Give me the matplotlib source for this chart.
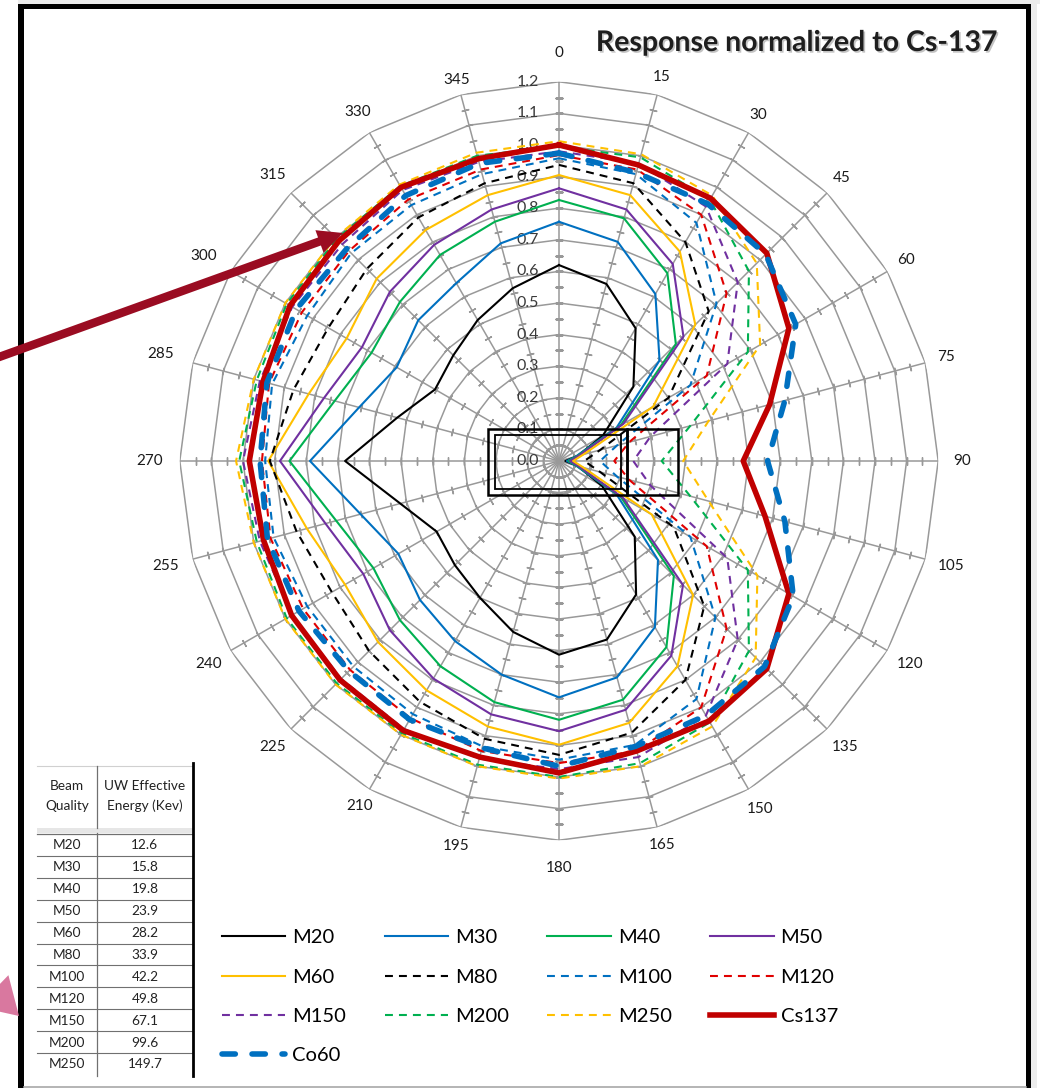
import numpy as np
import matplotlib
matplotlib.use("Agg")
import matplotlib.pyplot as plt
from matplotlib.patches import Rectangle, FancyArrow
import matplotlib.patheffects as pe

plt.rcParams['font.family'] = ['Lato', 'DejaVu Sans']

# ---------------- data ----------------
angles_deg = list(range(0, 360, 15))

M20 = [0.62, 0.58, 0.485, 0.333, 0.16, 0.06, 0.02, 0.06, 0.157, 0.339, 0.488, 0.585,
       0.613, 0.56, 0.50, 0.466, 0.447, 0.52, 0.677, 0.53, 0.453, 0.473, 0.515, 0.566]
M30 = [0.757, 0.718, 0.61, 0.45, 0.21, 0.055, 0.025, 0.055, 0.21, 0.443, 0.607, 0.709,
       0.748, 0.70, 0.658, 0.622, 0.587, 0.65, 0.788, 0.655, 0.593, 0.63, 0.65, 0.713]
M40 = [0.826, 0.795, 0.686, 0.523, 0.225, 0.06, 0.03, 0.06, 0.225, 0.514, 0.68, 0.782,
       0.819, 0.79, 0.75, 0.712, 0.678, 0.73, 0.853, 0.735, 0.685, 0.712, 0.753, 0.784]
M50 = [0.863, 0.824, 0.72, 0.557, 0.235, 0.065, 0.035, 0.065, 0.235, 0.555, 0.711, 0.815,
       0.855, 0.83, 0.795, 0.757, 0.715, 0.765, 0.883, 0.77, 0.72, 0.757, 0.79, 0.824]
M60 = [0.905, 0.871, 0.765, 0.61, 0.344, 0.08, 0.045, 0.08, 0.339, 0.60, 0.75, 0.858,
       0.898, 0.87, 0.838, 0.81, 0.782, 0.826, 0.92, 0.82, 0.776, 0.816, 0.844, 0.871]
M80 = [0.937, 0.91, 0.80, 0.67, 0.40, 0.135, 0.08, 0.135, 0.42, 0.65, 0.80, 0.89,
       0.93, 0.91, 0.88, 0.85, 0.83, 0.86, 0.915, 0.87, 0.843, 0.86, 0.89, 0.91]
M100 = [0.958, 0.94, 0.87, 0.705, 0.48, 0.19, 0.13, 0.19, 0.48, 0.70, 0.87, 0.93,
        0.945, 0.935, 0.925, 0.92, 0.92, 0.935, 0.93, 0.94, 0.92, 0.93, 0.935, 0.94]
M120 = [0.968, 0.955, 0.90, 0.75, 0.54, 0.23, 0.175, 0.23, 0.54, 0.75, 0.90, 0.95,
        0.956, 0.95, 0.94, 0.935, 0.935, 0.945, 0.94, 0.95, 0.94, 0.94, 0.955, 0.955]
M150 = [0.98, 0.975, 0.93, 0.80, 0.615, 0.30, 0.235, 0.30, 0.615, 0.80, 0.93, 0.97,
        0.975, 0.975, 0.98, 0.975, 0.975, 0.98, 1.0, 0.98, 0.975, 0.97, 0.99, 0.98]
M200 = [0.995, 0.995, 0.955, 0.85, 0.69, 0.43, 0.325, 0.43, 0.69, 0.85, 0.955, 0.99,
        1.0, 0.995, 0.995, 0.995, 0.995, 0.99, 1.012, 0.99, 0.995, 0.995, 1.005, 1.0]
M250 = [1.012, 1.005, 0.97, 0.885, 0.735, 0.49, 0.393, 0.49, 0.725, 0.88, 0.97, 1.0,
        1.005, 1.0, 1.0, 1.0, 1.0, 1.0, 1.022, 1.0, 1.0, 1.0, 1.01, 1.01]
Cs137 = [1.0, 0.97, 0.96, 0.93, 0.84, 0.69, 0.583, 0.675, 0.84, 0.93, 0.95, 0.95,
         0.987, 0.97, 0.985, 0.98, 0.977, 0.968, 0.98, 0.97, 0.983, 0.985, 1.0, 0.99]
Co60 = [0.974, 0.945, 0.94, 0.925, 0.865, 0.74, 0.66, 0.74, 0.856, 0.92, 0.93, 0.935,
        0.966, 0.94, 0.945, 0.94, 0.95, 0.955, 0.946, 0.957, 0.96, 0.95, 0.97, 0.975]

series_names = ['M20', 'M30', 'M40', 'M50', 'M60', 'M80', 'M100', 'M120',
                'M150', 'M200', 'M250', 'Cs137', 'Co60']
series_values = [M20, M30, M40, M50, M60, M80, M100, M120, M150, M200, M250, Cs137, Co60]

radial_ticks = [0.0, 0.1, 0.2, 0.3, 0.4, 0.5, 0.6, 0.7, 0.8, 0.9, 1.0, 1.1, 1.2]

table_beam = ['M20', 'M30', 'M40', 'M50', 'M60', 'M80', 'M100', 'M120', 'M150', 'M200', 'M250']
table_energy = ['12.6', '15.8', '19.8', '23.9', '28.2', '33.9', '42.2', '49.8', '67.1', '99.6', '149.7']

title = 'Response normalized to Cs-137'

# ---------------- styles / layout ----------------
BLUE = '#0070C0'
GREEN = '#00B050'
PURPLE = '#7030A0'
YELLOW = '#FFC000'
RED = '#E00000'
DRED = '#C00000'
GRID = '#999999'

# distance (px) of each angle label from the centre
label_rpx = [408, 398, 399, 400, 401, 401, 403, 406, 405, 405, 402, 398,
             407, 399, 398, 405, 405, 407, 409, 412, 410, 405, 403, 394]

thin = 1.5
dash = (3.8, 2.9)
styles = {
    'M20': dict(color='black', lw=thin, ls='-'),
    'M30': dict(color=BLUE, lw=thin, ls='-'),
    'M40': dict(color=GREEN, lw=thin, ls='-'),
    'M50': dict(color=PURPLE, lw=thin, ls='-'),
    'M60': dict(color=YELLOW, lw=thin, ls='-'),
    'M80': dict(color='black', lw=thin, ls=(0, dash)),
    'M100': dict(color=BLUE, lw=thin, ls=(0, dash)),
    'M120': dict(color=RED, lw=thin, ls=(0, dash)),
    'M150': dict(color=PURPLE, lw=thin, ls=(0, dash)),
    'M200': dict(color=GREEN, lw=thin, ls=(0, dash)),
    'M250': dict(color=YELLOW, lw=thin, ls=(0, dash)),
    'Cs137': dict(color=DRED, lw=4.0, ls='-'),
    'Co60': dict(color=BLUE, lw=4.0, ls=(0, (2.4, 3.0)), dash_capstyle='round'),
}

W, H = 1040, 1088
fig = plt.figure(figsize=(W / 100, H / 100), dpi=100)
fig.patch.set_facecolor('white')

# polar axes: centre at (559, 461) px, r=1.2 -> 379 px
cx, cy, R = 559, 461, 379.2
PXU = R / 1.2
ax = fig.add_axes([(cx - R) / W, (H - cy - R) / H, 2 * R / W, 2 * R / H], projection='polar')
ax.set_theta_zero_location('N')
ax.set_theta_direction(-1)
ax.set_ylim(0, 1.2)
ax.set_axis_off()

theta = np.deg2rad(angles_deg)
theta_closed = np.append(theta, theta[0] + 2 * np.pi)

# polygon rings
for r in radial_ticks[1:]:
    ax.plot(theta_closed, [r] * len(theta_closed), color=GRID, lw=1.1, zorder=1)
# spokes + tick marks
tick_r = np.arange(0.05, 1.2, 0.05)
for a, t in zip(angles_deg, theta):
    ax.plot([t, t], [0, 1.2], color=GRID, lw=1.1, zorder=1)
    ax.plot([t] * len(tick_r), tick_r, ls='none', marker=(2, 2, 90 - a),
            ms=5.5, mew=1.0, mec=GRID, zorder=1)

# angle labels
for a, t, rp in zip(angles_deg, theta, label_rpx):
    ax.text(t, rp / PXU, str(a), ha='center', va='center', fontsize=11, color='#1a1a1a')
# radial labels
for v in radial_ticks:
    ax.annotate(f'{v:.1f}', xy=(0, v), xytext=(-14.5, 0), textcoords='offset points',
                ha='right', va='center', fontsize=11.5, color='#3a3a3a', zorder=2)

# series
handles = {}
for name, vals in zip(series_names, series_values):
    vv = np.append(vals, vals[0])
    ln, = ax.plot(theta_closed, vv, zorder=3, **styles[name])
    handles[name] = ln

# legend (row-wise order laid out column-major)
order = ['M20', 'M60', 'M150', 'Co60', 'M30', 'M80', 'M200', 'M40', 'M100', 'M250',
         'M50', 'M120', 'Cs137']
fig.legend([handles[n] for n in order], order, loc='upper left',
           bbox_to_anchor=(222 / W, 1 - 929 / H), ncol=4, frameon=False,
           fontsize=14.5, handlelength=3.15, handletextpad=0.35, columnspacing=1.9,
           labelspacing=1.11, borderpad=0, borderaxespad=0)

# ---------------- overlay (pixel coordinates) ----------------
ov = fig.add_axes([0, 0, 1, 1], zorder=5)
ov.set_xlim(0, W)
ov.set_ylim(H, 0)
ov.axis('off')
ov.patch.set_alpha(0)

# frame
ov.add_patch(Rectangle((18, 0), W - 18, 4, color='#ececec', lw=0))
ov.add_patch(Rectangle((1031, 0), 6, H, color='#ececec', lw=0))
ov.add_patch(Rectangle((18, 4), 6, H, color='black', lw=0))
ov.add_patch(Rectangle((18, 4), 1013, 5, color='black', lw=0))
ov.add_patch(Rectangle((1026, 4), 5, H, color='black', lw=0))
ov.plot([24, 1026], [1086.5, 1086.5], color='#a8a8a8', lw=1.2)

# title
ov.text(797, 51, title, ha='center', va='baseline', fontsize=20.5, fontweight='bold',
        color='#1e1e1e',
        path_effects=[pe.SimplePatchShadow(offset=(1.2, -1.2), shadow_rgbFace='#888888', alpha=0.5),
                      pe.Normal()])

# centre rectangles
for (x0, y0, x1, y1, lw) in [(488, 429, 627, 495, 1.8), (495, 435, 621, 489, 1.3),
                             (627, 429, 678, 495, 1.8)]:
    ov.add_patch(Rectangle((x0, y0), x1 - x0, y1 - y0, fill=False, ec='black', lw=lw))

# dark red arrow
ov.add_patch(FancyArrow(-5, 358.5, 348, -125.5, width=8.5, head_width=24, head_length=25,
                        length_includes_head=True, color='#9a0c22', lw=0))
# pink arrow (partially visible)
ov.add_patch(FancyArrow(-70, 930, 89, 86, width=14, head_width=44, head_length=36,
                        length_includes_head=True, color='#d9789f', lw=0))

# table
tx0, tx1, tx2 = 37, 97, 193
ov.plot([tx0, tx2], [766, 766], color='#d0d0d0', lw=0.8)
ov.text(67, 786, 'Beam', ha='center', va='center', fontsize=9.8, color='#222222')
ov.text(67, 806, 'Quality', ha='center', va='center', fontsize=9.8, color='#222222')
ov.text(145, 786, 'UW Effective', ha='center', va='center', fontsize=9.8, color='#222222')
ov.text(145, 806, 'Energy (Kev)', ha='center', va='center', fontsize=9.8, color='#222222')
ov.add_patch(Rectangle((tx0, 827.5), tx2 - tx0, 5.5, color='#e6e6e6', lw=0))
row0, pitch = 834, 21.9
ov.plot([tx0, tx2], [row0, row0], color='#707070', lw=0.9)
for i, (b, e) in enumerate(zip(table_beam, table_energy)):
    yc = row0 + pitch * (i + 0.5)
    ov.text(67, yc + 0.5, b, ha='center', va='center', fontsize=9.8, color='#222222')
    ov.text(145, yc + 0.5, e, ha='center', va='center', fontsize=9.8, color='#222222')
    if i < len(table_beam) - 1:
        ov.plot([tx0, tx2], [row0 + pitch * (i + 1)] * 2, color='#707070', lw=0.8)
ov.plot([tx1, tx1], [766, 827.5], color='#707070', lw=0.9)
ov.plot([tx1, tx1], [833, 1076], color='#707070', lw=0.9)
ov.plot([tx2, tx2], [763, 1076], color='black', lw=2.0)

fig.savefig('out.png', dpi=100, facecolor='white')
